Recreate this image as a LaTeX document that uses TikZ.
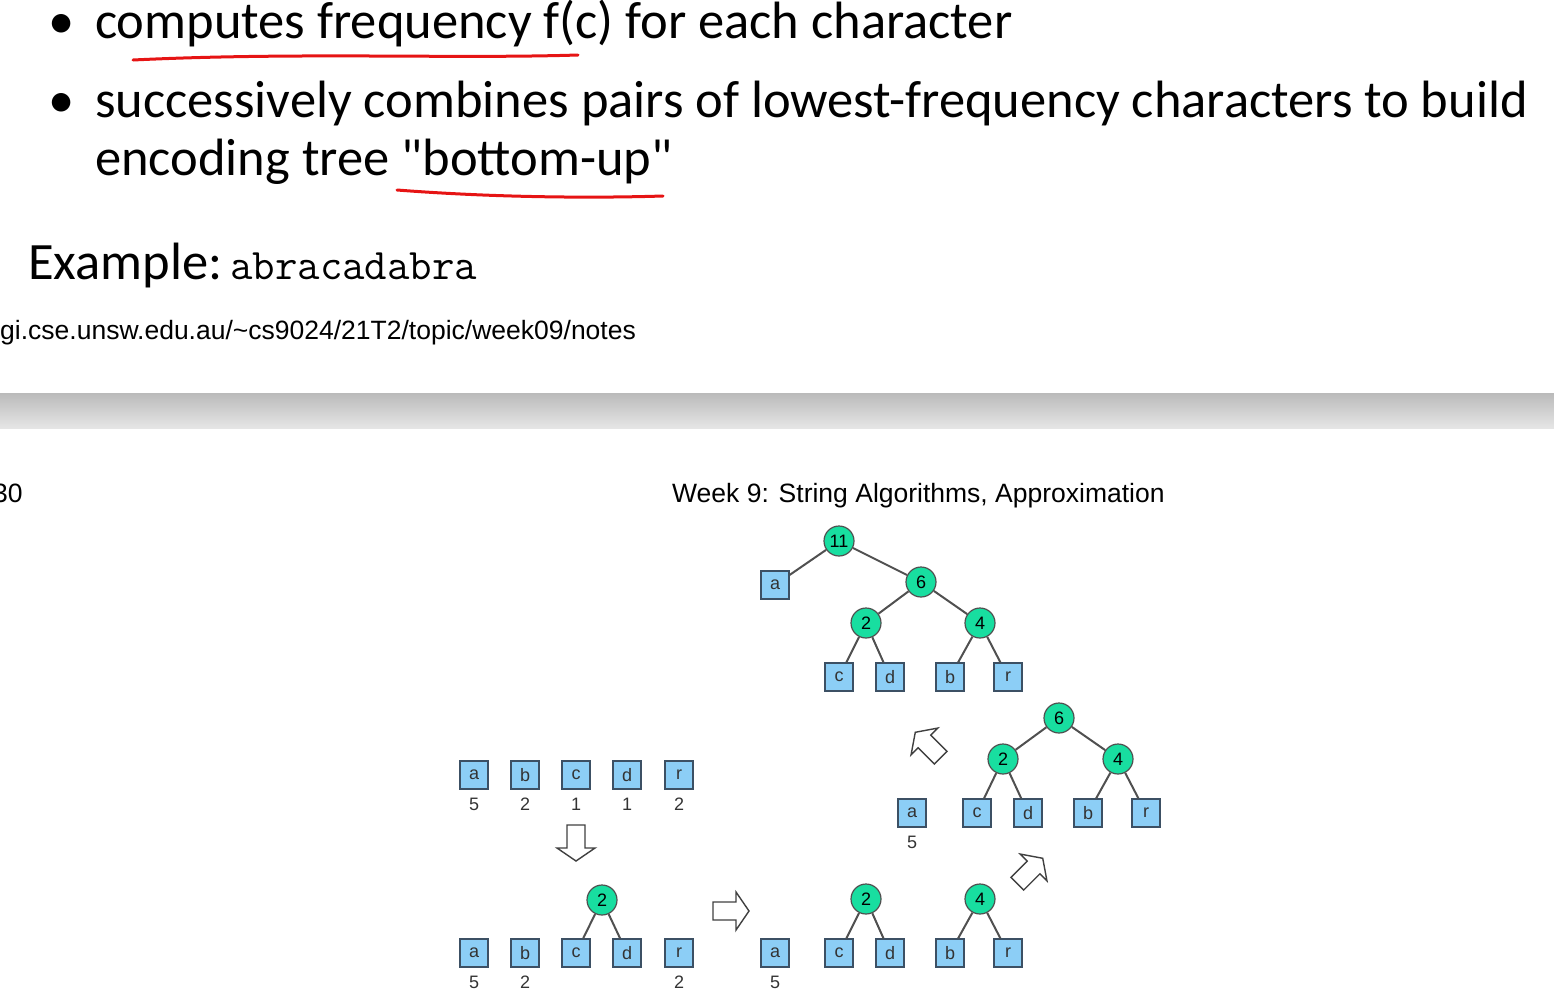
\documentclass[tikz,border=0pt]{standalone}
\usepackage{fontspec}
\setmainfont{Carlito}[Ligatures=TeXOff]
\newfontfamily\arial{Liberation Sans}
\definecolor{leaffill}{RGB}{140,206,246}
\definecolor{leafdraw}{RGB}{60,80,100}
\definecolor{nodefill}{RGB}{24,222,160}
\definecolor{edgecol}{RGB}{80,80,80}
\definecolor{ulred}{RGB}{230,20,20}
\begin{document}
\begin{tikzpicture}[x=1pt,y=-1pt,
  leaf/.style={draw=leafdraw,fill=leaffill,line width=1.2pt,minimum size=28pt,inner sep=0pt,font=\arial\fontsize{18}{18}\selectfont,text=black!80},
  inode/.style={circle,draw=edgecol,fill=nodefill,line width=1.2pt,minimum size=30pt,inner sep=0pt,font=\arial\fontsize{18}{18}\selectfont},
  freq/.style={font=\arial\fontsize{18}{18}\selectfont,text=black!80,inner sep=0pt},
  edge/.style={draw=edgecol,line width=2pt},
  barrow/.style={draw=black!75,fill=white,line width=1.4pt,line join=miter},
  bigtext/.style={font=\fontsize{52.5}{56}\selectfont,anchor=base west,inner sep=0pt},
  smalltext/.style={font=\arial\fontsize{26.5}{28}\selectfont,anchor=base west,inner sep=0pt}
]
\useasboundingbox (0,0) rectangle (1554,1007);
% header text
\node[bigtext] (dot1) at (48,38) {•};
\node[bigtext] (line1) at (95,38) {computes frequency f(c) for each character};
\node[bigtext] (dot2) at (48,117) {•};
\node[bigtext] (line2) at (95,117) {successively combines pairs of lowest-frequency characters to build};
\node[bigtext] (line3) at (95,175) {encoding tree "bottom-up"};
\draw[ulred,line width=3pt,line cap=round] (133,60) .. controls (300,52) and (450,59) .. (578,55);
\draw[ulred,line width=3pt,line cap=round] (397,190) .. controls (500,198) and (600,198) .. (663,196);
\node[bigtext] (ex) at (28,279) {Example:};
\node[font=\ttfamily\fontsize{43.6}{46}\selectfont,anchor=base west,inner sep=0pt] (abra) at (230,279) {abracadabra};
\node[smalltext] (url) at (0,339) {gi.cse.unsw.edu.au/\char`\~cs9024/21T2/topic/week09/notes};
% gray band
\shade[top color=black!27,bottom color=black!10] (0,393) rectangle (1554,428);
\node[smalltext] (pg) at (-7,502) {30};
\node[smalltext] (title) at (672,502) {Week 9: String Algorithms, Approximation};
% top tree
\node[inode] (t11) at (839,541) {11};
\node[leaf] (ta) at (775,585) {a};
\node[inode] (t6) at (921,582) {6};
\node[inode] (t2) at (866,623) {2};
\node[inode] (t4) at (980,623) {4};
\node[leaf] (tc) at (839,677) {c};
\node[leaf] (td) at (890,677) {d};
\node[leaf] (tb) at (950,677) {b};
\node[leaf] (tr) at (1008,677) {r};
\draw[edge] (t11) -- (ta); \draw[edge] (t11) -- (t6);
\draw[edge] (t6) -- (t2); \draw[edge] (t6) -- (t4);
\draw[edge] (t2) -- (tc); \draw[edge] (t2) -- (td);
\draw[edge] (t4) -- (tb); \draw[edge] (t4) -- (tr);
% middle right tree
\node[inode] (m6) at (1059,718) {6};
\node[inode] (m2) at (1003,759) {2};
\node[inode] (m4) at (1118,759) {4};
\node[leaf] (ma) at (912,813) {a};
\node[freq] (ma5) at (912,842) {5};
\node[leaf] (mc) at (977,813) {c};
\node[leaf] (md) at (1028,813) {d};
\node[leaf] (mb) at (1088,813) {b};
\node[leaf] (mr) at (1146,813) {r};
\draw[edge] (m6) -- (m2); \draw[edge] (m6) -- (m4);
\draw[edge] (m2) -- (mc); \draw[edge] (m2) -- (md);
\draw[edge] (m4) -- (mb); \draw[edge] (m4) -- (mr);
% row 1
\node[leaf] (ra) at (474,775) {a}; \node[freq] (ra5) at (474,804) {5};
\node[leaf] (rb) at (525,775) {b}; \node[freq] (rb2) at (525,804) {2};
\node[leaf] (rc) at (576,775) {c}; \node[freq] (rc1) at (576,804) {1};
\node[leaf] (rd) at (627,775) {d}; \node[freq] (rd1) at (627,804) {1};
\node[leaf] (rr) at (679,775) {r}; \node[freq] (rr2) at (679,804) {2};
% row 2
\node[inode] (s2) at (602,900) {2};
\node[leaf] (sa) at (474,953) {a}; \node[freq] (sa5) at (474,982) {5};
\node[leaf] (sb) at (525,953) {b}; \node[freq] (sb2) at (525,982) {2};
\node[leaf] (sc) at (576,953) {c};
\node[leaf] (sd) at (627,953) {d};
\node[leaf] (sr) at (679,953) {r}; \node[freq] (sr2) at (679,982) {2};
\draw[edge] (s2) -- (sc); \draw[edge] (s2) -- (sd);
% row 3
\node[leaf] (ua) at (775,953) {a}; \node[freq] (ua5) at (775,982) {5};
\node[inode] (u2) at (866,899) {2};
\node[leaf] (uc) at (839,953) {c};
\node[leaf] (ud) at (890,953) {d};
\node[inode] (u4) at (980,899) {4};
\node[leaf] (ub) at (950,953) {b};
\node[leaf] (ur) at (1008,953) {r};
\draw[edge] (u2) -- (uc); \draw[edge] (u2) -- (ud);
\draw[edge] (u4) -- (ub); \draw[edge] (u4) -- (ur);
% block arrows
\foreach \cx/\cy/\ang in {576/843/-90, 731/911/0, 1030/871/45, 928/745/135}{
  \begin{scope}[shift={(\cx,\cy)},rotate=\ang]
    \draw[barrow] (-18,-9) -- (5,-9) -- (5,-19) -- (18,0) -- (5,19) -- (5,9) -- (-18,9) -- cycle;
  \end{scope}
}
\end{tikzpicture}
\end{document}
